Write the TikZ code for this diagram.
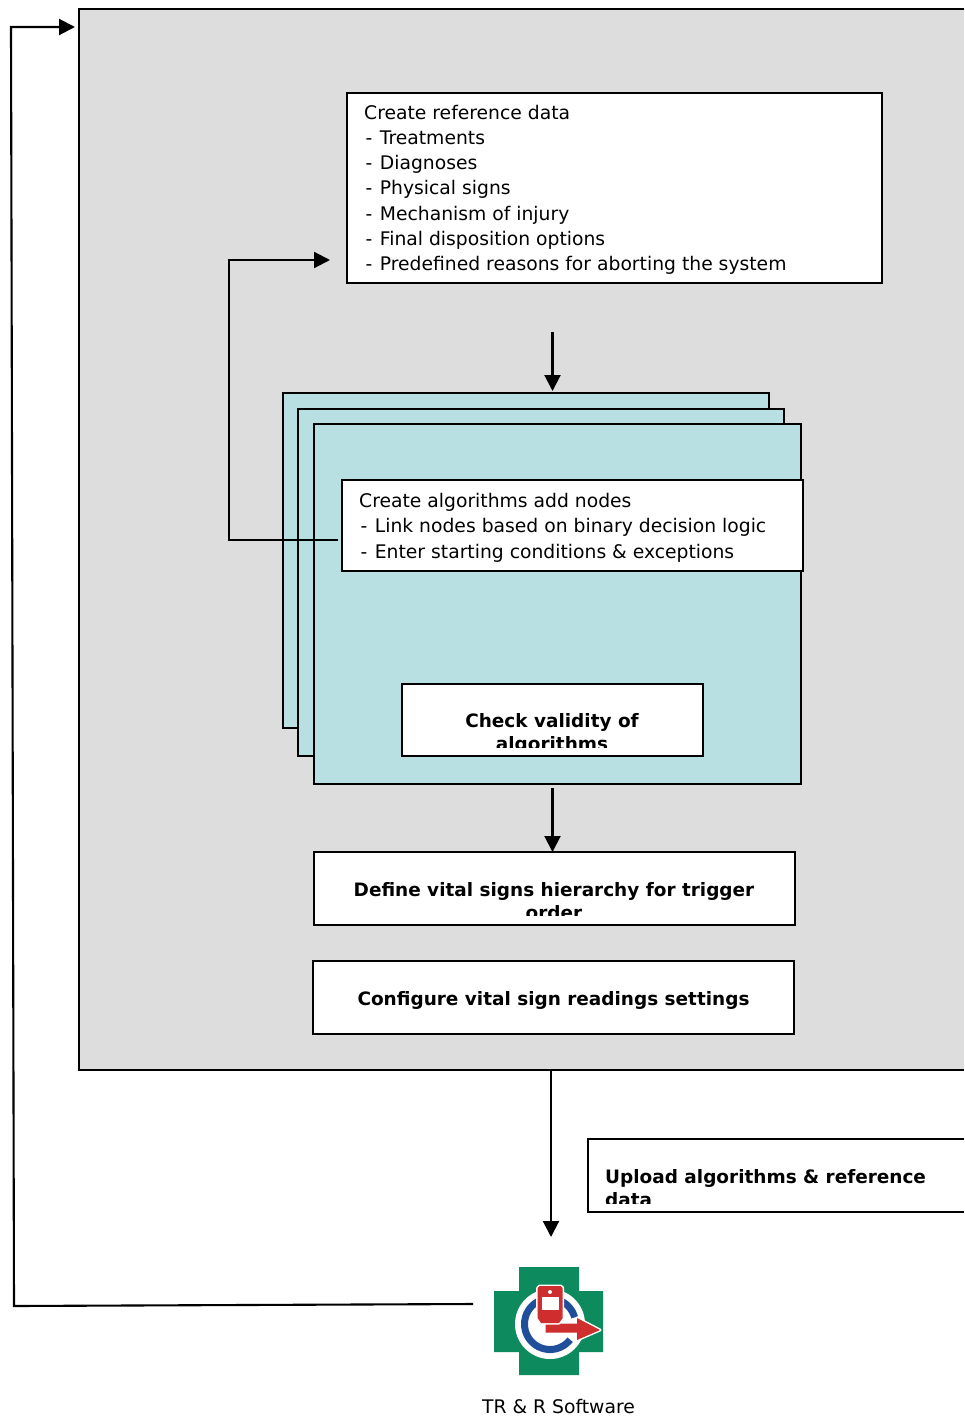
\documentclass[tikz,border=0pt]{standalone}
\usepackage{fontspec}
\setmainfont{DejaVu Sans}
\usetikzlibrary{arrows.meta}
\definecolor{panelgray}{HTML}{DDDDDD}
\definecolor{stackteal}{HTML}{B8E0E2}
\definecolor{logogreen}{HTML}{0E8A5F}
\definecolor{logoblue}{HTML}{1F4E9A}
\definecolor{logored}{HTML}{CF2E2E}
\tikzset{
  x=1pt,y=-1pt,
  edge/.style={draw=black,line width=2.1pt},
  arrowline/.style={edge,-{Triangle[length=16pt,width=16pt]}},
  box/.style={draw=black,line width=2.1pt,fill=white,inner sep=0pt,outer sep=0pt},
  stackbox/.style={draw=black,line width=2.1pt,fill=stackteal,inner sep=0pt,outer sep=0pt},
  plain/.style={font=\fontsize{18.75}{25.2}\selectfont,inner sep=0pt,align=left,anchor=west},
  strong/.style={font=\fontsize{18.45}{23}\selectfont\bfseries,inner sep=0pt,align=center},
  redpart/.style={fill=logored,preaction={draw=white,line width=3pt,line join=round}},
}
\newcommand{\rectbox}[6]{\node[#2,minimum width=#5-#3,minimum height=#6-#4] (#1) at ({(#3+#5)/2},{(#4+#6)/2}) {};}
\newcommand{\dashitem}[1]{\hspace*{1.5pt}-\hspace*{7.4pt}#1}
\begin{document}
\begin{tikzpicture}
\useasboundingbox (0,0) rectangle (964,1416);
% panel
\node[fill=panelgray,inner sep=0pt,outer sep=0pt,minimum width=885,minimum height=1061] (panel) at (521.5,539.5) {};
\draw[edge] (panel.north east) -- (panel.north west) -- (panel.south west) -- (panel.south east);
% reference data
\rectbox{ref}{box}{347}{93}{882}{283}
\node[plain] (reftext) at (364,190) {Create reference data\\[-0.6pt]\dashitem{Treatments}\\\dashitem{Diagnoses}\\\dashitem{Physical signs}\\\dashitem{Mechanism of injury}\\\dashitem{Final disposition options}\\\dashitem{Predefined reasons for aborting the system}};
% stack
\rectbox{stackA}{stackbox}{283}{393}{769}{728}
\rectbox{stackB}{stackbox}{298}{409}{784}{756}
\rectbox{stackC}{stackbox}{314}{424}{801}{784}
\rectbox{algo}{box}{342}{480}{803}{571}
\node[plain] (algotext) at (359,527.8) {Create algorithms add nodes\\\dashitem{Link nodes based on binary decision logic}\\\dashitem{Enter starting conditions \& exceptions}};
% clipped boxes
\rectbox{check}{box}{402}{684}{703}{756}
\begin{scope}
\clip (404,686) rectangle (701,747);
\node[strong] (checktext) at (552,733.5) {Check validity of\\algorithms};
\end{scope}
\rectbox{define}{box}{314}{852}{795}{925}
\begin{scope}
\clip (316,854) rectangle (793,915.5);
\node[strong] (definetext) at (554,901.5) {Define vital signs hierarchy for trigger\\order};
\end{scope}
\rectbox{config}{box}{313}{961}{794}{1034}
\node[strong] (configtext) at (553.5,1000) {Configure vital sign readings settings};
% upload, open at the right edge
\node[fill=white,inner sep=0pt,outer sep=0pt,minimum width=376,minimum height=73] (upload) at (776,1175.5) {};
\draw[edge] (upload.north east) -- (upload.north west) -- (upload.south west) -- (upload.south east);
\begin{scope}
\clip (590,1141) rectangle (964,1203);
\node[strong,align=left,anchor=west] (uploadtext) at (605,1188.5) {Upload algorithms \& reference\\data};
\end{scope}
% logo
\fill[logogreen] (519,1267) -- (579,1267) -- (579,1291) -- (603,1291) -- (603,1352) -- (579,1352) -- (579,1375) -- (519,1375) -- (519,1352) -- (494,1352) -- (494,1291) -- (519,1291) -- cycle;
\node[inner sep=0pt,outer sep=0pt,minimum size=0pt] (logo) at (550,1324) {};
\fill[white] (logo) circle (35);
\draw[logoblue,line width=7pt,domain=-15:-322,samples=60,smooth] plot ({550+cos(\x)*25.5},{1324+sin(\x)*25.5});
\path[redpart] (545.5,1318) -- (545.5,1332.5) -- (577,1332.5) -- (577,1340) -- (600,1330) -- (577,1318) -- (577,1323.5) -- (555,1323.5) -- (555,1318) -- cycle;
\path[redpart] (537.7,1288) -- (539.7,1286) -- (560.7,1286) -- (562.7,1288) -- (562.7,1318) -- (559,1323) -- (541,1323) -- (537.7,1318) -- cycle;
\fill[white] (541.7,1297) rectangle (559.3,1310);
\fill[white] (550,1292) circle (2);
\node[font=\fontsize{18.75}{23}\selectfont,inner sep=0pt] (logotext) at (558.5,1406) {TR \& R Software};
% connectors
\coordinate (logoL) at (473,1304);
\coordinate (c1) at (14,1306);
\coordinate (c2) at (11,27);
\coordinate (c3) at (75,27);
\draw[arrowline] (logoL) -- (c1) -- (c2) -- (c3);
\coordinate (d0) at (338,540);
\coordinate (d1) at (229,540);
\coordinate (d2) at (229,260);
\coordinate (d3) at (330,260);
\draw[arrowline] (d0) -- (d1) -- (d2) -- (d3);
\coordinate (e0) at (552.5,332);
\coordinate (e1) at (552.5,391);
\draw[arrowline] (e0) -- (e1);
\coordinate (f0) at (552.5,788);
\coordinate (f1) at (552.5,852);
\draw[arrowline] (f0) -- (f1);
\coordinate (g0) at (551,1070);
\coordinate (g1) at (551,1237);
\draw[arrowline] (g0) -- (g1);
\end{tikzpicture}
\end{document}
